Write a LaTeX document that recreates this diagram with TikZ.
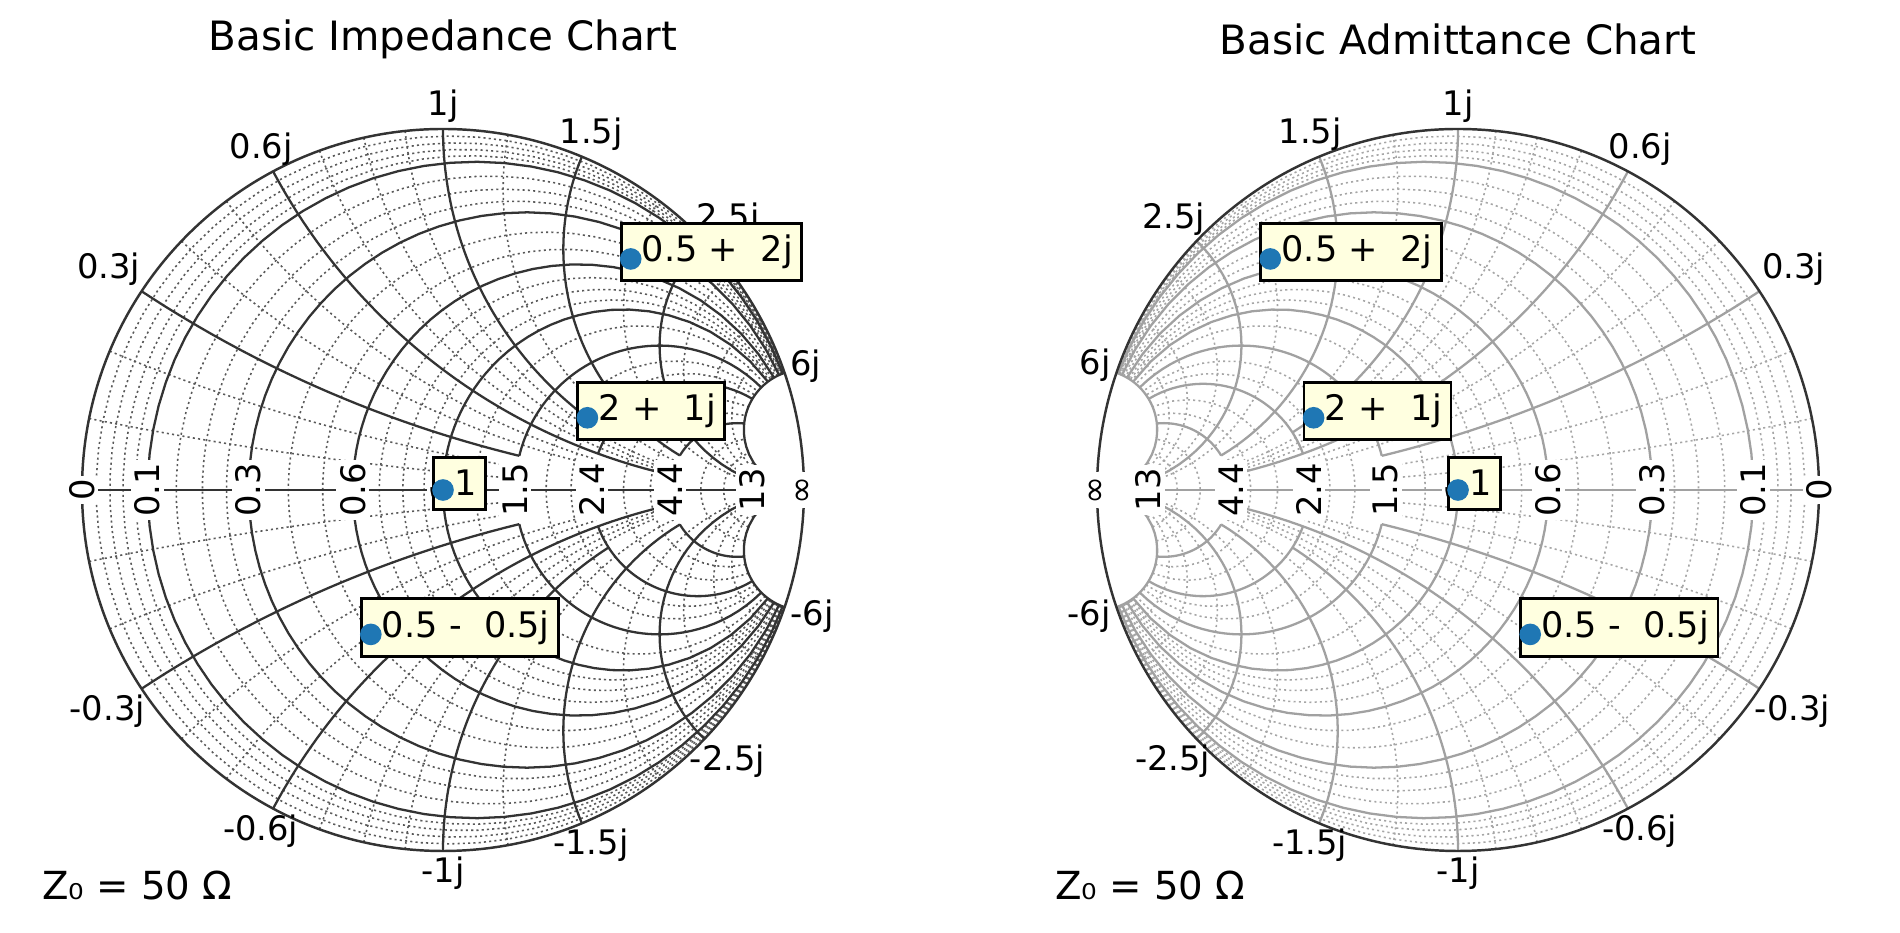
\documentclass[tikz,border=0pt]{standalone}
\usepackage{fontspec}
\setmainfont{DejaVu Sans}
\usetikzlibrary{calc}
\definecolor{boxfill}{HTML}{FFFFE0}
\definecolor{dotblue}{HTML}{1F77B4}
\newcommand\Rc[4]{%
 \pgfmathsetmacro\ta{atan(#3)}\pgfmathsetmacro\tb{atan(#4)}%
 \draw[#1] plot[variable=\t, domain=\ta:\tb, samples=70] ({((#2)*(#2)+tan(\t)*tan(\t)-1)/((#2+1)*(#2+1)+tan(\t)*tan(\t))},{2*tan(\t)/((#2+1)*(#2+1)+tan(\t)*tan(\t))});}
\newcommand\Xc[4]{%
 \pgfmathsetmacro\ta{atan(#3)}\pgfmathsetmacro\tb{atan(#4)}%
 \draw[#1] plot[variable=\t, domain=\ta:\tb, samples=70] ({(tan(\t)*tan(\t)+(#2)*(#2)-1)/((tan(\t)+1)*(tan(\t)+1)+(#2)*(#2))},{2*(#2)/((tan(\t)+1)*(tan(\t)+1)+(#2)*(#2))});}
\newcommand\Xpm[4]{\Xc{#1}{#2}{#3}{#4}\Xc{#1}{-#2}{#3}{#4}}
\newcommand\Rpm[4]{\Rc{#1}{#2}{#3}{#4}\Rc{#1}{#2}{-#4}{-#3}}
\newcommand\smithgrid{%
 \foreach \r in {0.02,0.04,0.06,0.08,0.15,0.2,0.25,0.4,0.5,0.7,0.8,0.9,1.2,1.8,2.1,3,3.7,6,8,10}{\Rc{minorln}{\r}{-6}{6}}
 \foreach \x/\rm in {0.1/1.5,0.2/1.5,0.4/2.4,0.5/2.4,0.7/4.4,0.8/4.4,0.9/4.4,1.2/4.4,2/13,3/13,4/13,5/13}{\Xpm{minorln}{\x}{0}{\rm}}
 \foreach \r in {0.1,0.3,0.6,1}{\Rc{majorln}{\r}{-6}{6}}
 \Rpm{majorln}{1.5}{0.3}{6}
 \Rpm{majorln}{2.4}{0.6}{6}
 \Rpm{majorln}{4.4}{1.5}{6}
 \Xpm{majorln}{0.3}{0}{1.5}
 \Xpm{majorln}{0.6}{0}{4.4}
 \Xpm{majorln}{1}{0}{2.4}
 \Xpm{majorln}{1.5}{0}{4.4}
 \Xpm{majorln}{2.5}{0}{13}
 \Xpm{majorln}{6}{0}{13}
 \draw[majorln] (-1,0) -- (0.857,0);
 \draw[outerln] (0,0) circle (1);}
\newcommand\smithlabels[1]{%
 \foreach \v/\lab in {0.3/0.3j,0.6/0.6j,1/1j,1.5/1.5j,2.5/2.5j,6/6j,-0.3/-0.3j,-0.6/-0.6j,-1/-1j,-1.5/-1.5j,-2.5/-2.5j,-6/-6j}{%
  \pgfmathsetmacro\th{180-2*atan(\v)}%
  \pgfmathsetmacro\thh{#1>0 ? \th : 180-\th}%
  \pgfmathsetmacro\an{mod(\thh+180+720,360)}%
  \node[ticklab, anchor=\an] at (\thh:1) {\lab};}
 \foreach \rv/\lab in {0/0,0.1/0.1,0.3/0.3,0.6/0.6,1/1,1.5/1.5,2.4/2.4,4.4/4.4,13/13}{%
  \pgfmathsetmacro\g{#1*(\rv-1)/(\rv+1)}%
  \node[axlab] at (\g,0) {\lab};}
 \node[axlab] at (#1,0) {∞};}
\newcommand\pt[3]{%
 \node[ptbox, anchor=west] at ($(#1,#2)+(-0.0305,0.019)$) {\hspace{1.2mm}#3};
 \fill[dotblue] (#1,#2) circle (0.03);}
\begin{document}
\begin{tikzpicture}[
  ticklab/.style={font=\fontsize{9.6}{11}\selectfont, inner sep=1.5pt},
  axlab/.style={font=\fontsize{9.6}{11}\selectfont, rotate=90, fill=white, inner sep=1pt},
  ptbox/.style={draw=black, line width=0.8pt, fill=boxfill, font=\fontsize{10}{12}\selectfont, inner xsep=2.5pt, minimum height=0.52cm},
  titlelab/.style={font=\fontsize{11.5}{14}\selectfont},
  zlab/.style={font=\fontsize{11}{13}\selectfont, anchor=west}]
\useasboundingbox (0,0) rectangle (19,9.33);
\begin{scope}[shift={(4.43,4.43)}, scale=3.61,
  minorln/.style={draw=black!65, line width=0.45pt, dash pattern=on 0.6pt off 0.9pt},
  majorln/.style={draw=black!80, line width=0.65pt},
  outerln/.style={draw=black!80, line width=0.7pt}]
 \smithgrid
\end{scope}
\begin{scope}[shift={(4.43,4.43)}, scale=3.61]
 \smithlabels{1}
 \pt{0.52}{0.64}{0.5 +\ \ 2j}
 \pt{0.4}{0.2}{2 +\ \ 1j}
 \pt{0}{0}{1}
 \pt{-0.2}{-0.4}{0.5 -\ \ 0.5j}
\end{scope}
\begin{scope}[shift={(14.58,4.43)}, xscale=-3.61, yscale=3.61,
  minorln/.style={draw=black!35, line width=0.45pt, dash pattern=on 0.6pt off 0.9pt},
  majorln/.style={draw=black!37, line width=0.65pt},
  outerln/.style={draw=black!80, line width=0.7pt}]
 \smithgrid
\end{scope}
\begin{scope}[shift={(14.58,4.43)}, scale=3.61]
 \smithlabels{-1}
 \pt{-0.52}{0.64}{0.5 +\ \ 2j}
 \pt{-0.4}{0.2}{2 +\ \ 1j}
 \pt{0}{0}{1}
 \pt{0.2}{-0.4}{0.5 -\ \ 0.5j}
\end{scope}
\node[titlelab] (t1) at (4.43,8.94) {Basic Impedance Chart};
\node[titlelab] (t2) at (14.58,8.94) {Basic Admittance Chart};
\node[zlab] (z1) at (0.30,0.48) {Z₀ = 50 Ω};
\node[zlab] (z2) at (10.43,0.48) {Z₀ = 50 Ω};
\end{tikzpicture}
\end{document}
